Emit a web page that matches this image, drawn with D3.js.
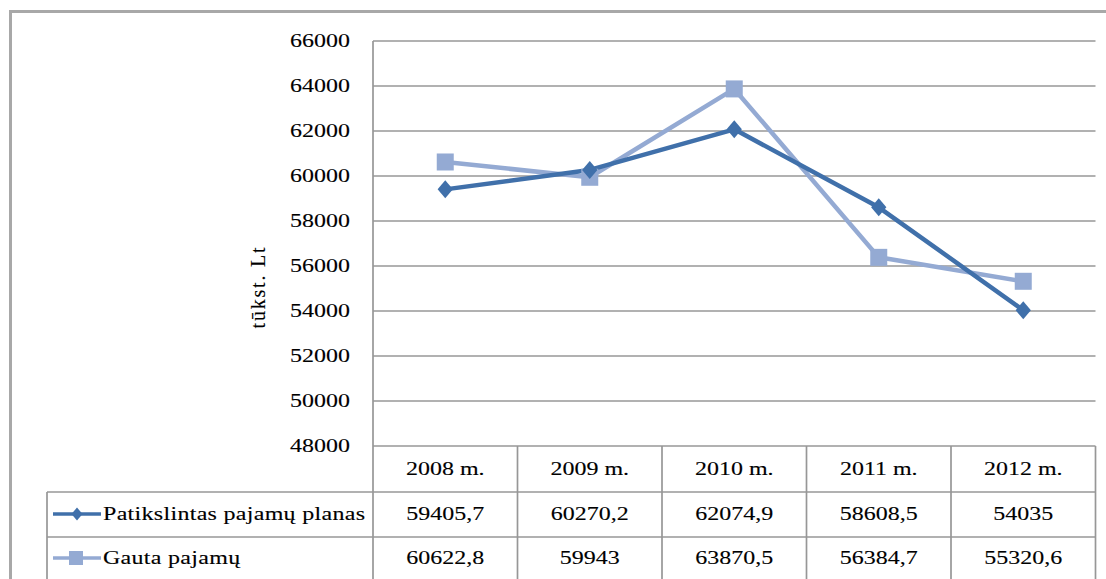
<!DOCTYPE html>
<html>
<head>
<meta charset="utf-8">
<script src="https://cdn.jsdelivr.net/npm/d3@7"></script>
<style>
html,body{margin:0;padding:0;background:#fff;}
svg{display:block;}
text{font-family:"Liberation Serif","Times New Roman",serif;fill:#000;stroke:#000;stroke-width:0.12px;}
</style>
</head>
<body>
<svg id="chart" width="1106" height="579"></svg>
<script>
const categories = ["2008 m.", "2009 m.", "2010 m.", "2011 m.", "2012 m."];
const planValues = [59405.7, 60270.2, 62074.9, 58608.5, 54035];
const receivedValues = [60622.8, 59943, 63870.5, 56384.7, 55320.6];
const planLabels = ["59405,7", "60270,2", "62074,9", "58608,5", "54035"];
const receivedLabels = ["60622,8", "59943", "63870,5", "56384,7", "55320,6"];
const seriesNames = ["Patikslintas pajamų planas", "Gauta pajamų"];
const yTicks = [48000, 50000, 52000, 54000, 56000, 58000, 60000, 62000, 64000, 66000];
const yTitle = "tūkst. Lt";

const colors = ["#4070AA", "#94AAD3"];
const gridColor = "#979797";
const svg = d3.select("#chart");

const plotL = 373, plotR = 1095.5, plotT = 41, plotB = 446;
const tableL = 47;
const rowTops = [446, 492, 537, 582];

const x = d3.scaleBand().domain(categories).range([plotL, plotR]).padding(0);
const y = d3.scaleLinear().domain([48000, 66000]).range([plotB, plotT]);

const FS = 19.5, SX = 1.23;
function hText(g, tx, ty, str, anchor, ls) {
  const t = g.append("text")
    .attr("transform", `translate(${tx},${ty}) scale(${SX},1)`)
    .attr("text-anchor", anchor || "middle")
    .attr("dominant-baseline", "central")
    .attr("font-size", FS)
    .text(str);
  if (ls) t.attr("letter-spacing", ls);
  return t;
}

// outer frame
svg.append("rect").attr("x", 10.5).attr("y", 11.5).attr("width", 1120).attr("height", 600)
  .attr("fill", "none").attr("stroke", "#a8a8a8").attr("stroke-width", 3);

// gridlines
const grid = svg.append("g");
grid.selectAll("line").data(yTicks).join("line")
  .attr("x1", plotL).attr("x2", plotR)
  .attr("y1", d => y(d)).attr("y2", d => y(d))
  .attr("stroke", gridColor).attr("stroke-width", 1.7);

// y axis line
svg.append("line").attr("x1", plotL).attr("x2", plotL).attr("y1", plotT).attr("y2", rowTops[3])
  .attr("stroke", gridColor).attr("stroke-width", 1.7);

// y tick labels
const yl = svg.append("g");
yTicks.forEach(v => hText(yl, 350, y(v), String(v), "end"));

// y title
svg.append("text")
  .attr("transform", `translate(258,287) rotate(-90)`)
  .attr("text-anchor", "middle")
  .attr("dominant-baseline", "central")
  .attr("font-size", 20)
  .attr("letter-spacing", 1.8)
  .text(yTitle);

// data table
const tbl = svg.append("g");
[rowTops[1], rowTops[2]].forEach(yy => tbl.append("line")
  .attr("x1", tableL).attr("x2", plotR).attr("y1", yy).attr("y2", yy)
  .attr("stroke", gridColor).attr("stroke-width", 1.7));
categories.forEach(c => tbl.append("line")
  .attr("x1", x(c) + x.bandwidth()).attr("x2", x(c) + x.bandwidth())
  .attr("y1", rowTops[0]).attr("y2", rowTops[3])
  .attr("stroke", gridColor).attr("stroke-width", 1.7));
tbl.append("line").attr("x1", tableL).attr("x2", tableL).attr("y1", rowTops[1]).attr("y2", rowTops[3])
  .attr("stroke", gridColor).attr("stroke-width", 1.7);

// header labels
categories.forEach(c => hText(tbl, x(c) + x.bandwidth() / 2, 469, c));
// values
const rowCenters = [514, 558];
[planLabels, receivedLabels].forEach((labels, r) => {
  categories.forEach((c, i) => hText(tbl, x(c) + x.bandwidth() / 2, rowCenters[r], labels[i]));
});

function diamondPath(cx, cy, s) {
  return `M${cx},${cy - s}L${cx + s * 0.85},${cy}L${cx},${cy + s}L${cx - s * 0.85},${cy}Z`;
}
[0, 1].forEach(r => {
  const cy = rowCenters[r];
  tbl.append("line").attr("x1", 53).attr("x2", 101).attr("y1", cy).attr("y2", cy)
    .attr("stroke", colors[r]).attr("stroke-width", 3.5);
  if (r === 0) {
    tbl.append("path").attr("d", diamondPath(77, cy, 6.5)).attr("fill", colors[0]);
  } else {
    tbl.append("rect").attr("x", 69).attr("y", cy - 7).attr("width", 14).attr("height", 14).attr("fill", colors[1]);
  }
  hText(tbl, 103, cy, seriesNames[r], "start", 0.25);
});

// lines
const cx = c => x(c) + x.bandwidth() / 2;
const lineGen = d3.line().x((d, i) => cx(categories[i])).y(d => y(d));
svg.append("path").datum(receivedValues).attr("d", lineGen)
  .attr("fill", "none").attr("stroke", colors[1]).attr("stroke-width", 4.5).attr("stroke-linejoin", "round");
svg.append("path").datum(planValues).attr("d", lineGen)
  .attr("fill", "none").attr("stroke", colors[0]).attr("stroke-width", 4.5).attr("stroke-linejoin", "round");

// markers
svg.append("g").selectAll("rect").data(receivedValues).join("rect")
  .attr("x", (d, i) => cx(categories[i]) - 8.5).attr("y", d => y(d) - 8.5)
  .attr("width", 17).attr("height", 17).attr("fill", colors[1]);
svg.append("g").selectAll("path").data(planValues).join("path")
  .attr("d", (d, i) => diamondPath(cx(categories[i]), y(d), 9))
  .attr("fill", colors[0]);
</script>
</body>
</html>
